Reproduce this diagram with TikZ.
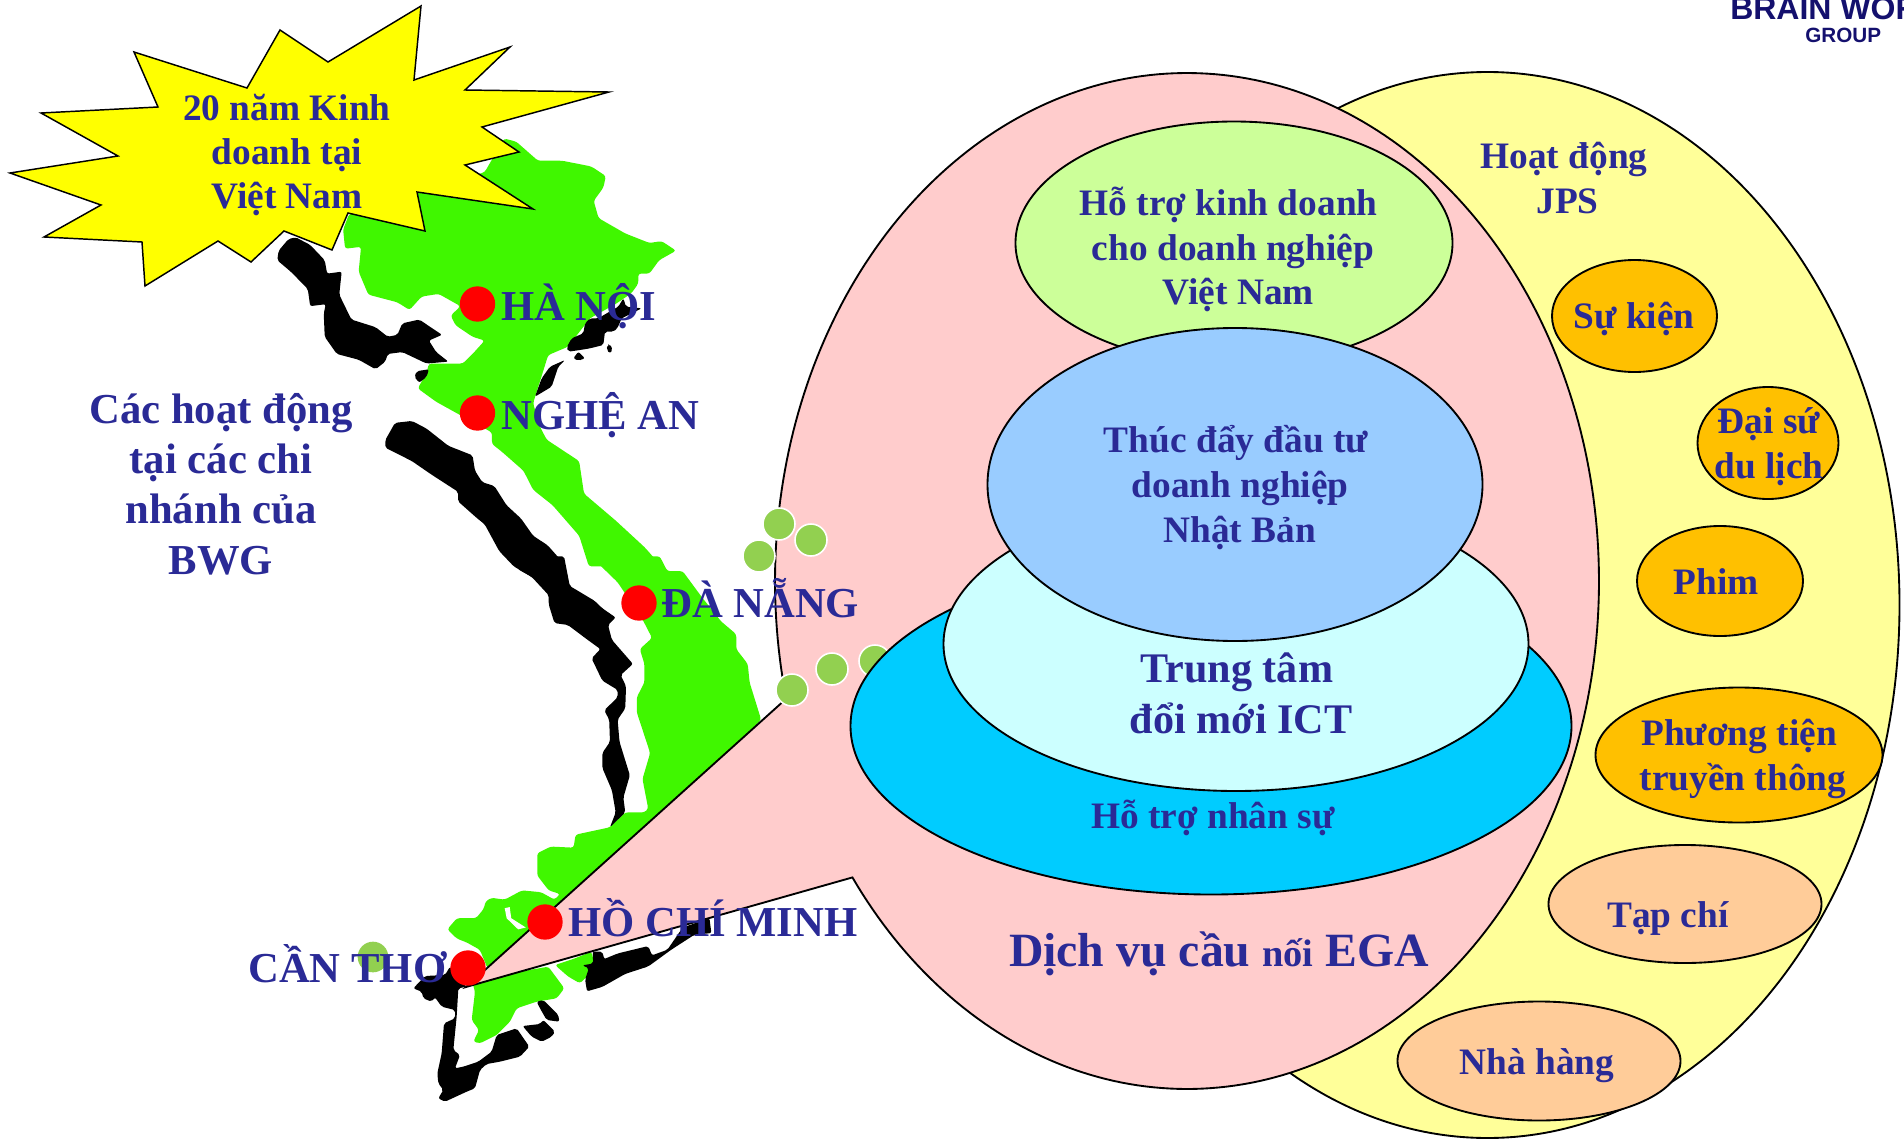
\documentclass[tikz,border=0pt]{standalone}
\usepackage{fontspec}
\setmainfont{Liberation Serif}
\setsansfont{Liberation Sans}
\usetikzlibrary{shapes.geometric}
\definecolor{txt}{HTML}{2A2A96}
\definecolor{mapgreen}{HTML}{40F700}
\definecolor{dotgreen}{HTML}{92D050}
\definecolor{pinkb}{HTML}{FFCCCC}
\definecolor{yellowb}{HTML}{FFFF99}
\definecolor{greenb}{HTML}{CCFF99}
\definecolor{blueb}{HTML}{99CCFF}
\definecolor{lightb}{HTML}{CCFFFF}
\definecolor{cyanb}{HTML}{00CCFF}
\definecolor{orangeb}{HTML}{FFC000}
\definecolor{peachb}{HTML}{FFCC99}
\definecolor{logo}{HTML}{14106E}
\definecolor{stary}{HTML}{FFFF00}
\definecolor{dotred}{HTML}{FF0000}
\tikzset{
  bub/.style n args={3}{ellipse,draw=black,line width=1.4pt,inner sep=0pt,fill=#1,minimum width=#2*0.75pt,minimum height=#3*0.75pt},
  lab/.style n args={2}{text=txt,font=\fontsize{#1}{#2}\selectfont\bfseries,align=center,inner sep=0pt},
  city/.style={text=txt,font=\fontsize{32}{36}\selectfont\bfseries,inner sep=0pt,anchor=base west},
  reddot/.style={circle,fill=dotred,inner sep=0pt,minimum size=26.5pt},
  isle/.style={circle,fill=dotgreen,draw=white,line width=1.2pt,inner sep=0pt,minimum size=24pt},
  mapg/.style={fill=mapgreen,rounded corners=2pt},
  mapk/.style={fill=black,rounded corners=1.5pt},
  scopeA/.style={x=0.3635pt,y=-0.287pt},
  scopeB/.style={shift={(300,560)},x=0.287pt,y=-0.2784pt},
  scopeC/.style={shift={(400,920)},x=0.25pt,y=-0.25pt},
  scopeD/.style={shift={(500,270)},x=0.25pt,y=-0.25pt}
}
\begin{document}
\begin{tikzpicture}[x=0.75pt,y=-0.75pt]
\useasboundingbox (0,0) rectangle (1904,1142);
\clip (0,0) rectangle (1904,1142);
% map, north part
\begin{scope}[scopeA]
\path[mapg] (720,560) -- (1000,450) -- (1040,362) -- (1065,370) -- (1110,420) -- (1160,420) -- (1220,435) -- (1250,460) -- (1245,490) -- (1225,525) -- (1235,570) -- (1290,610) -- (1340,635) -- (1365,630) -- (1395,655) -- (1360,680) -- (1340,715) -- (1317,715) -- (1317,741) -- (1303,766) -- (1272,793) -- (1217,832) -- (1172,906) -- (1131,928) -- (1117,985) -- (1104,1037) -- (1100,1054) -- (1114,1115) -- (1128,1149) -- (1195,1205) -- (1205,1290) -- (1270,1360) -- (1330,1430) -- (1365,1480) -- (1215,1480) -- (1195,1400) -- (1140,1320) -- (1100,1280) -- (1080,1230) -- (1035,1180) -- (1015,1160) -- (1015,1130) -- (950,1085) -- (900,1050) -- (862,1015) -- (880,975) -- (885,950) -- (955,950) -- (975,925) -- (1000,890) -- (975,880) -- (940,850) -- (930,825) -- (950,800) -- (905,768) -- (870,775) -- (845,810) -- (820,790) -- (760,770) -- (740,710) -- (745,645) -- (712,650) -- (708,600) -- cycle;
\path[mapk] (610,620) -- (640,640) -- (670,680) -- (675,715) -- (705,710) -- (700,770) -- (725,835) -- (775,855) -- (800,880) -- (820,875) -- (830,845) -- (865,835) -- (912,875) -- (885,890) -- (900,920) -- (925,945) -- (880,950) -- (830,920) -- (800,925) -- (795,945) -- (775,965) -- (740,940) -- (695,925) -- (670,880) -- (668,820) -- (672,795) -- (640,800) -- (635,755) -- (600,710) -- (572,680) -- (575,655) -- (595,625) -- cycle;
\path[mapk] (885,965) -- (880,985) -- (865,1000) -- (855,985) -- (860,970) -- cycle;
\path[mapk] (815,1105) -- (850,1100) -- (880,1120) -- (925,1165) -- (975,1190) -- (980,1230) -- (995,1260) -- (1020,1270) -- (1045,1320) -- (1075,1355) -- (1100,1400) -- (1130,1425) -- (1165,1475) -- (1165,1530) -- (1135,1530) -- (1100,1510) -- (1060,1480) -- (1030,1440) -- (1000,1370) -- (985,1355) -- (945,1310) -- (945,1285) -- (890,1240) -- (850,1205) -- (795,1170) -- (795,1150) -- cycle;
\end{scope}
% north-east coast
\begin{scope}[scopeD]
\path[mapk] (270,145) -- (295,145) -- (320,130) -- (355,110) -- (370,85) -- (378,110) -- (425,115) -- (395,130) -- (365,145) -- (352,175) -- (340,185) -- (315,185) -- (310,225) -- (270,235) -- (240,240) -- (205,245) -- (200,232) -- (215,205) -- (250,190) -- (255,160) -- cycle;
\path[mapk] (330,222) -- (338,240) -- (330,250) -- (320,240) -- (322,225) -- cycle;
\path[mapk] (235,245) -- (255,265) -- (235,272) -- (220,265) -- cycle;
\path[mapk] (195,270) -- (175,290) -- (155,350) -- (105,380) -- (125,325) -- (150,290) -- cycle;
\end{scope}
% map, south part
\begin{scope}[scopeB]
\path[mapg] (760,-10) -- (940,-10) -- (960,30) -- (1000,30) -- (1050,100) -- (1100,165) -- (1140,200) -- (1140,240) -- (1170,280) -- (1175,330) -- (1205,430) -- (1000,650) -- (670,960) -- (490,1100) -- (470,1050) -- (435,1030) -- (410,1020) -- (385,995) -- (410,965) -- (460,965) -- (480,940) -- (485,920) -- (500,910) -- (535,915) -- (580,890) -- (630,895) -- (665,915) -- (680,900) -- (650,890) -- (620,850) -- (620,790) -- (655,772) -- (715,775) -- (720,740) -- (810,720) -- (850,680) -- (900,680) -- (910,670) -- (895,590) -- (915,520) -- (880,410) -- (880,370) -- (900,330) -- (900,280) -- (888,240) -- (920,210) -- (895,160) -- (830,60) -- cycle;
\path[fill=white] (535,938) -- (548,935) -- (552,965) -- (590,990) -- (570,995) -- (540,965) -- cycle;
\path[mapk] (555,-10) -- (690,-10) -- (705,70) -- (770,110) -- (790,130) -- (825,155) -- (805,175) -- (815,215) -- (870,280) -- (838,310) -- (852,340) -- (850,400) -- (830,430) -- (835,490) -- (862,580) -- (845,640) -- (850,680) -- (810,720) -- (825,680) -- (815,620) -- (790,560) -- (790,520) -- (810,490) -- (808,430) -- (795,405) -- (830,370) -- (830,350) -- (790,325) -- (762,265) -- (785,240) -- (745,210) -- (700,175) -- (665,170) -- (650,120) -- (650,95) -- (605,45) -- (570,25) -- cycle;
\end{scope}
\begin{scope}[scopeC]
\path[mapg] (445,140) -- (493,205) -- (470,235) -- (410,245) -- (350,265) -- (330,305) -- (290,345) -- (240,370) -- (220,365) -- (237,330) -- (215,300) -- (225,215) -- (215,180) -- cycle;
\path[mapg] (465,135) -- (525,115) -- (575,95) -- (582,130) -- (565,165) -- (540,190) -- (505,170) -- cycle;
\path[mapk] (135,165) -- (75,168) -- (40,205) -- (65,215) -- (70,235) -- (95,245) -- (105,232) -- (125,260) -- (165,270) -- (165,295) -- (132,310) -- (125,400) -- (112,460) -- (115,490) -- (130,510) -- (115,535) -- (135,545) -- (200,515) -- (225,505) -- (240,450) -- (260,432) -- (300,425) -- (360,410) -- (388,380) -- (350,325) -- (290,345) -- (275,395) -- (235,425) -- (190,440) -- (165,445) -- (180,405) -- (160,390) -- (165,340) -- (170,290) -- (175,205) -- (200,200) -- (150,140) -- cycle;
\path[mapk] (410,245) -- (430,240) -- (475,285) -- (478,305) -- (440,300) -- (420,265) -- cycle;
\path[mapk] (368,318) -- (420,312) -- (430,300) -- (465,335) -- (455,350) -- (425,365) -- (395,350) -- cycle;
\end{scope}
\begin{scope}[scopeB]
\path[mapk] (738,1092) -- (766,1087) -- (765,1055) -- (790,1055) -- (795,1075) -- (830,1060) -- (910,1040) -- (920,1065) -- (960,1050) -- (1000,990) -- (1070,965) -- (1075,1005) -- (1030,1010) -- (970,1050) -- (910,1095) -- (850,1115) -- (790,1150) -- (750,1162) -- (745,1130) -- (755,1100) -- cycle;
\end{scope}
% bubbles
\node[bub={yellowb}{824}{1066}] (jps) at (1487.5,605) {};
\draw[fill=pinkb,line width=1.4pt] plot[domain=215.7:553.4,samples=300,variable=\t] ({1187+412*cos(\t)},{581-508*sin(\t)}) -- (466,987) -- cycle;
\node[isle] (d1) at (779,524) {};
\node[isle] (d2) at (811,540) {};
\node[isle] (d3) at (759,556) {};
\node[isle] (d4) at (832,669) {};
\node[isle] (d5) at (792,690) {};
\node[isle] (d6) at (875,661) {};
\node[circle,fill=dotgreen,inner sep=0pt,minimum size=23pt] (d7) at (373,957) {};
\node[bub={cyanb}{721}{337}] (hr) at (1211,726) {};
\node[bub={lightb}{585}{294}] (ict) at (1236,644) {};
\node[bub={greenb}{437}{243}] (biz) at (1234,243) {};
\node[bub={blueb}{495}{313}] (jp) at (1235,484.5) {};
\node[bub={orangeb}{165}{112}] (e1) at (1634.5,316) {};
\node[bub={orangeb}{141}{112}] (e2) at (1768,443) {};
\node[bub={orangeb}{166}{110}] (e3) at (1720,581) {};
\node[bub={orangeb}{287}{135}] (e4) at (1739,755) {};
\node[bub={peachb}{273}{118}] (e5) at (1685,904) {};
\node[bub={peachb}{283}{119}] (e6) at (1539,1061) {};
% red dots
\node[reddot] (hn) at (477.5,304) {};
\node[reddot] (na) at (477.5,413) {};
\node[reddot] (dn) at (639,603) {};
\node[reddot] (hcm) at (545,922) {};
\node[reddot] (ct) at (468,968) {};
% star
\draw[fill=stary,line width=1.1pt,line join=miter] (421,6) -- (414,80) -- (510,47) -- (465,90) -- (609,92) -- (482,127) -- (519,152) -- (465,165) -- (533,209) -- (417,192) -- (425,231) -- (348,213) -- (332,250) -- (284,231) -- (251,262) -- (218,241) -- (145,286) -- (142,242) -- (44,237) -- (101,205) -- (10,173) -- (118,156) -- (41,113) -- (158,107) -- (134,52) -- (247,88) -- (280,30) -- (328,62) -- cycle;
% texts
\node[lab={28}{33.3}] (t1) at (287,155) {20 năm Kinh\\doanh tại\\Việt Nam};
\node[lab={32}{37.8}] (t2) at (221,484) {Các hoạt động\\tại các chi\\nhánh của\\BWG};
\node[lab={28}{33.6}] (t3) at (1564,178) {Hoạt động\\\hspace*{5.4pt}JPS};
\node[lab={28}{33.3}] (t4) at (1233,249.5) {Hỗ trợ kinh doanh\hspace*{6.4pt}\\cho doanh nghiệp\\\hspace*{8pt}Việt Nam};
\node[lab={28}{33.6}] (t5) at (1236,487.5) {Thúc đẩy đầu tư\hspace*{0pt}\\\hspace*{6.4pt}doanh nghiệp\\\hspace*{5.5pt}Nhật Bản};
\node[lab={31.6}{38}] (t6) at (1241,693.5) {Trung tâm\hspace*{6pt}\\đổi mới ICT};
\node[lab={28}{33.6}] (t7) at (1213,818.4) {Hỗ trợ nhân sự};
\node[lab={35.8}{40}] (t8) at (1219,953.5) {Dịch vụ cầu {\fontsize{28.8}{30}\selectfont nối} EGA};
\node[lab={28}{33.6}] (t9) at (1634,319.4) {Sự kiện};
\node[lab={28}{33.6}] (t10) at (1769,446.5) {Đại sứ\\du lịch};
\node[lab={28}{33.6}] (t11) at (1716,582) {Phim};
\node[lab={28}{33.2}] (t12) at (1741,759) {Phương tiện\hspace*{3pt}\\\hspace*{3pt}truyền thông};
\node[lab={28}{33.6}] (t13) at (1668,918.4) {Tạp chí};
\node[lab={28}{33.6}] (t14) at (1537,1065.4) {Nhà hàng};
\node[city] (c1) at (501,320) {HÀ NỘI};
\node[city] (c2) at (501,429) {NGHỆ AN};
\node[city] (c3) at (661,617.5) {ĐÀ NẴNG};
\node[city] (c4) at (568,936) {HỒ CHÍ MINH};
\node[city] (c5) at (248,982) {CẦN THƠ};
\node[anchor=base west,inner sep=0pt,text=logo,font=\sffamily\bfseries\fontsize{24}{26}\selectfont] (l1) at (1730,19) {BRAIN WOR};
\node[anchor=base west,inner sep=0pt,text=logo,font=\sffamily\bfseries\fontsize{15.5}{18}\selectfont] (l2) at (1805,42) {GROUP};
\end{tikzpicture}
\end{document}
